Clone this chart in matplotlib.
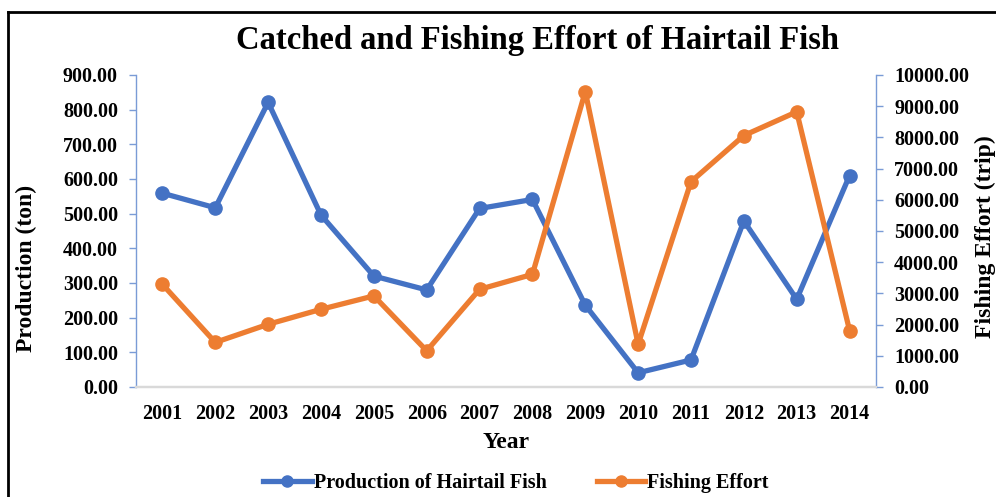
import matplotlib
matplotlib.use("Agg")
import matplotlib.pyplot as plt
from matplotlib.lines import Line2D

# ====================== data ======================
years = ["2001", "2002", "2003", "2004", "2005", "2006", "2007",
         "2008", "2009", "2010", "2011", "2012", "2013", "2014"]
production = [559, 517, 821, 496, 320, 280, 515, 541, 236, 41, 78, 479, 253, 610]
effort = [3290, 1430, 2010, 2490, 2920, 1160, 3130, 3610, 9470, 1370, 6580, 8060, 8820, 1810]

BLUE = "#4472C4"
ORANGE = "#ED7D31"
AXIS_BLUE = "#7A9BD6"

plt.rcParams["font.family"] = ["Liberation Serif", "DejaVu Serif"]
plt.rcParams["font.weight"] = "bold"

fig = plt.figure(figsize=(9.96, 4.97), dpi=100)
ax = fig.add_axes([136 / 996, 1 - 387 / 497, 740 / 996, 312 / 497])
ax2 = ax.twinx()

x = list(range(len(years)))
ax.plot(x, production, color=BLUE, lw=3.8, marker="o", ms=9.5, zorder=3)
ax2.plot(x, effort, color=ORANGE, lw=3.8, marker="o", ms=9.5, zorder=3)

ax.set_xlim(-0.5, len(years) - 0.5)
ax.set_ylim(0, 900)
ax2.set_ylim(0, 10000)
ax.set_yticks(range(0, 901, 100))
ax2.set_yticks(range(0, 10001, 1000))
ax.set_yticklabels([f"{v:.2f}" for v in range(0, 901, 100)])
ax2.set_yticklabels([f"{v:.2f}" for v in range(0, 10001, 1000)])
ax.set_xticks(x)
ax.set_xticklabels(years)

for a in (ax, ax2):
    a.spines["top"].set_visible(False)
    a.spines["bottom"].set_color("#D9D9D9")
    a.spines["bottom"].set_linewidth(1.6)
    a.spines["left"].set_color(AXIS_BLUE)
    a.spines["right"].set_color(AXIS_BLUE)
    a.spines["left"].set_linewidth(1.0)
    a.spines["right"].set_linewidth(1.0)
ax.spines["right"].set_visible(False)
ax2.spines["left"].set_visible(False)

ax.tick_params(axis="y", length=5, width=1, color=AXIS_BLUE, labelsize=14.5, pad=8)
ax2.tick_params(axis="y", length=5, width=1, color=AXIS_BLUE, labelsize=14.5, pad=8)
ax.tick_params(axis="x", length=0, labelsize=14.5, pad=12)

ax.set_ylabel("Production (ton)", fontsize=17, fontweight="bold")
ax.yaxis.set_label_coords((37 - 136) / 740, (387 - 268) / 312)
ax2.set_ylabel("Fishing Effort (trip)", fontsize=17, fontweight="bold")
ax2.yaxis.set_label_coords((975 - 136) / 740, (387 - 237) / 312)
ax.set_xlabel("Year", fontsize=17, fontweight="bold")
ax.xaxis.set_label_coords(0.5, (387 - 432) / 312)

fig.text(537 / 996, 1 - 40 / 497, "Catched and Fishing Effort of Hairtail Fish",
         ha="center", va="center", fontsize=23.5, fontweight="bold")

handles = [
    Line2D([], [], color=BLUE, lw=3.8, marker="o", ms=8),
    Line2D([], [], color=ORANGE, lw=3.8, marker="o", ms=8),
]
fig.legend(handles, ["Production of Hairtail Fish", "Fishing Effort"],
           loc="center", bbox_to_anchor=(516 / 996, 1 - 483 / 497), ncol=2,
           frameon=False, fontsize=14.5, handlelength=2.4, handletextpad=0.1,
           columnspacing=2.5, borderaxespad=0)

# border (left and top only visible)
fig.add_artist(Line2D([8 / 996, 8 / 996], [0, 1 - 12 / 497], color="black", lw=2,
                      transform=fig.transFigure))
fig.add_artist(Line2D([8 / 996, 1], [1 - 12 / 497, 1 - 12 / 497], color="black", lw=2,
                      transform=fig.transFigure))

fig.savefig("out.png", dpi=100)
